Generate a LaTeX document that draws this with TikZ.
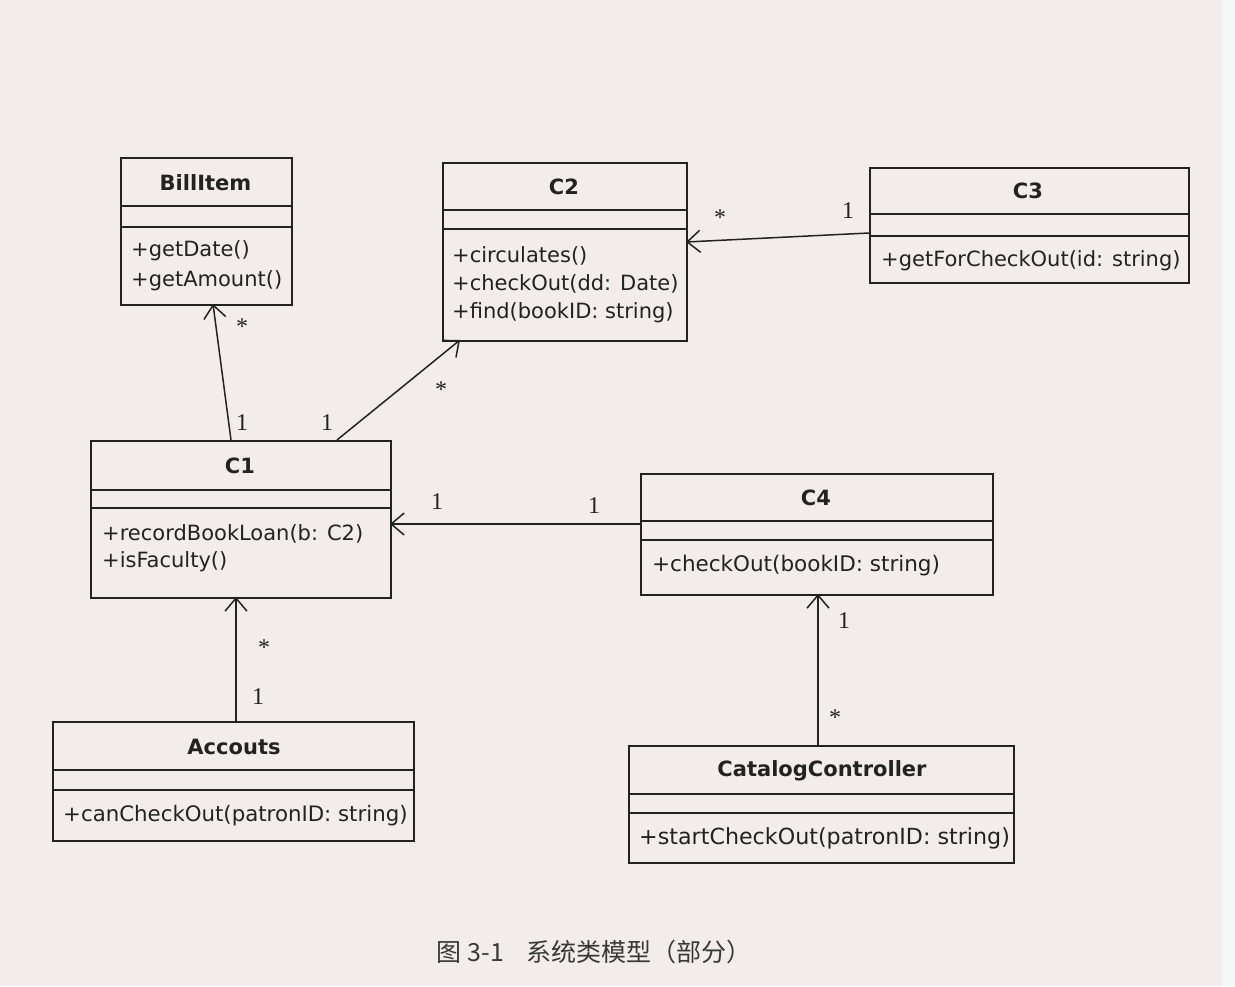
\documentclass[tikz,border=0pt]{standalone}
\usepackage{fontspec}
\setmainfont{DejaVu Sans}
\newfontfamily\numfont{Liberation Serif}
\newfontfamily\cjk{Noto Sans CJK SC}
\usetikzlibrary{arrows.meta}

\definecolor{paper}{HTML}{F2EDEC}
\definecolor{edge}{HTML}{F6F7F8}
\definecolor{ink}{HTML}{222222}

\tikzset{
  classbox/.style={draw=ink, line width=1.6pt, inner sep=0pt, anchor=north west},
  rule/.style={draw=ink, line width=1.6pt},
  title/.style={text=ink, inner sep=0pt, font=\fontsize{21}{25}\selectfont\bfseries},
  ops/.style={text=ink, inner sep=0pt, anchor=west, align=left},
  assoc/.style={draw=ink, line width=1.5pt, -{Straight Barb[length=13pt,width=22pt,line width=1.5pt]}},
  mult/.style={text=ink, inner sep=0pt, font=\fontsize{24}{28}\numfont},
  caption/.style={text=ink!90, inner sep=0pt, font=\fontsize{25}{30}\cjk},
}

\begin{document}
\begin{tikzpicture}[x=1pt, y=-1pt]
  % page
  \useasboundingbox (0,0) rectangle (1235,986);
  \fill[paper] (0,0) rectangle (1235,986);
  \fill[edge] (1222,0) rectangle (1235,986);

  % BillItem
  \node[classbox, minimum width=171pt, minimum height=147pt] (bill) at (120,157) {};
  \draw[rule] (120,206) -- (291,206);
  \draw[rule] (120,227) -- (291,227);
  \node[title] (bill-t) at (205.5,183) {BillItem};
  \node[ops, font=\fontsize{21}{30}\selectfont] (bill-m) at (131,266) {+getDate()\\+getAmount()};

  % C2
  \node[classbox, minimum width=244pt, minimum height=178pt] (c2) at (442,162) {};
  \draw[rule] (442,210) -- (686,210);
  \draw[rule] (442,229) -- (686,229);
  \node[title] (c2-t) at (564,187) {C2};
  \node[ops, font=\fontsize{21}{28}\selectfont] (c2-m) at (452,285) {+circulates()\\+checkOut(dd: Date)\\+find(bookID: string)};

  % C3
  \node[classbox, minimum width=319pt, minimum height=115pt] (c3) at (869,167) {};
  \draw[rule] (869,214) -- (1188,214);
  \draw[rule] (869,236) -- (1188,236);
  \node[title] (c3-t) at (1028,191) {C3};
  \node[ops, font=\fontsize{21}{28}\selectfont] (c3-m) at (881,261) {+getForCheckOut(id: string)};

  % C1
  \node[classbox, minimum width=300pt, minimum height=157pt] (c1) at (90,440) {};
  \draw[rule] (90,490) -- (390,490);
  \draw[rule] (90,508) -- (390,508);
  \node[title] (c1-t) at (240,466) {C1};
  \node[ops, font=\fontsize{21}{27}\selectfont] (c1-m) at (102,548.5) {+recordBookLoan(b: C2)\\+isFaculty()};

  % C4
  \node[classbox, minimum width=352pt, minimum height=121pt] (c4) at (640,473) {};
  \draw[rule] (640,521) -- (992,521);
  \draw[rule] (640,540) -- (992,540);
  \node[title] (c4-t) at (816,498) {C4};
  \node[ops, font=\fontsize{21.5}{28}\selectfont] (c4-m) at (652,566) {+checkOut(bookID: string)};

  % Accouts
  \node[classbox, minimum width=361pt, minimum height=119pt] (acc) at (52,721) {};
  \draw[rule] (52,770) -- (413,770);
  \draw[rule] (52,790) -- (413,790);
  \node[title] (acc-t) at (234,747) {Accouts};
  \node[ops, font=\fontsize{21.3}{28}\selectfont] (acc-m) at (63,816) {+canCheckOut(patronID: string)};

  % CatalogController
  \node[classbox, minimum width=385pt, minimum height=117pt] (cat) at (628,745) {};
  \draw[rule] (628,794) -- (1013,794);
  \draw[rule] (628,813) -- (1013,813);
  \node[title] (cat-t) at (822,771) {CatalogController};
  \node[ops, font=\fontsize{22.2}{28}\selectfont] (cat-m) at (639,838) {+startCheckOut(patronID: string)};

  % association end points on the class borders
  \coordinate (c1-bill) at (231,440);
  \coordinate (bill-c1) at (213,304);
  \coordinate (c1-c2) at (337,440);
  \coordinate (c2-c1) at (460,340);
  \coordinate (c3-c2) at (869,233);
  \coordinate (c2-c3) at (686,242);
  \coordinate (c4-c1) at (640,524);
  \coordinate (c1-c4) at (390,524);
  \coordinate (acc-c1) at (236,721);
  \coordinate (c1-acc) at (236,597);
  \coordinate (cat-c4) at (818,745);
  \coordinate (c4-cat) at (818,594);

  % associations
  \draw[assoc] (c1-bill) -- (bill-c1);
  \draw[assoc] (c1-c2) -- (c2-c1);
  \draw[assoc] (c3-c2) -- (c2-c3);
  \draw[assoc] (c4-c1) -- (c1-c4);
  \draw[assoc] (acc-c1) -- (c1-acc);
  \draw[assoc] (cat-c4) -- (c4-cat);

  % multiplicities
  \node[mult] (m1) at (242,423) {1};
  \node[mult] (m2) at (242,327) {*};
  \node[mult] (m3) at (327,423) {1};
  \node[mult] (m4) at (441,390) {*};
  \node[mult] (m5) at (848,211) {1};
  \node[mult] (m6) at (720,218) {*};
  \node[mult] (m7) at (437,502) {1};
  \node[mult] (m8) at (594,506) {1};
  \node[mult] (m9) at (264,648) {*};
  \node[mult] (m10) at (258,697) {1};
  \node[mult] (m11) at (844,621) {1};
  \node[mult] (m12) at (835,718) {*};

  % figure caption
  \node[caption] (cap) at (594,952) {图 3-1\hspace{22pt}系统类模型（部分）};
\end{tikzpicture}
\end{document}
